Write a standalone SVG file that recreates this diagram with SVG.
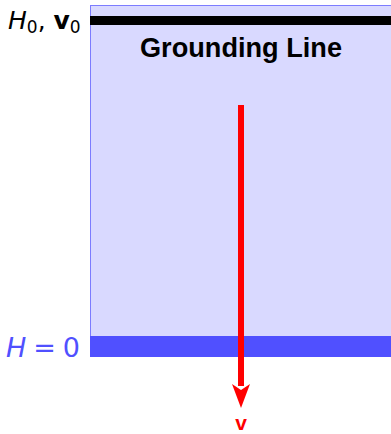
<svg xmlns="http://www.w3.org/2000/svg" width="391" height="434" viewBox="0 0 391 434">
<style>
.lbl{font-family:"DejaVu Sans","Liberation Sans",sans-serif;}
.ttl{font-family:"Liberation Sans",Arial,sans-serif;font-weight:bold;}
</style>
<g id="ice">
<rect x="90.5" y="5.5" width="310" height="351" fill="#d9d9ff" stroke="#7c7cff" stroke-width="1"/>
<rect x="90" y="16" width="301" height="9" fill="#000"/>
<rect x="90" y="336" width="301" height="21" fill="#5050ff"/>
<text x="241" y="57" text-anchor="middle" class="ttl" font-size="27" textLength="202" lengthAdjust="spacingAndGlyphs" fill="#000">Grounding Line</text>
</g>
<g id="labels">
<text x="8" y="29" class="lbl" font-size="25" fill="#000"><tspan font-style="italic">H</tspan><tspan font-size="17" dy="4">0</tspan><tspan dy="-4">, </tspan><tspan font-weight="bold">v</tspan><tspan font-size="17" dy="4">0</tspan></text>
<text x="6" y="357" class="lbl" font-size="27" fill="#5050ff" textLength="74" lengthAdjust="spacing"><tspan font-style="italic">H</tspan> = 0</text>
<text x="241" y="430" text-anchor="middle" class="ttl" font-size="21" fill="#ff0000">v</text>
</g>
<g id="connectors">
<line x1="241" y1="105" x2="241" y2="386" stroke="#ff0000" stroke-width="6"/>
<path d="M232,384 L241,390 L250,384 L241,408 Z" fill="#ff0000"/>
</g>
</svg>
